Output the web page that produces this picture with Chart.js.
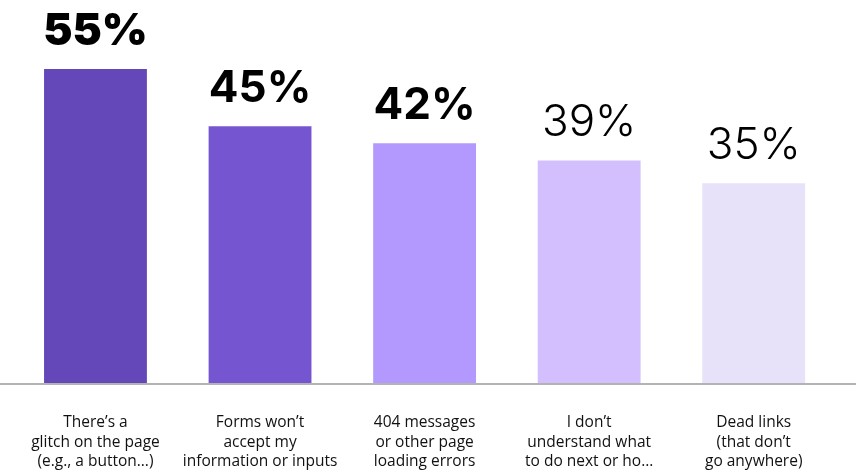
<!DOCTYPE html>
<html>
<head>
<meta charset="utf-8">
<script src="https://cdn.jsdelivr.net/npm/chart.js@4/dist/chart.umd.min.js"></script>
<style>
  html, body { margin: 0; padding: 0; background: #fff; }
  #wrap { width: 856px; height: 471px; }
</style>
</head>
<body>
<div id="wrap"><canvas id="chart"></canvas></div>
<script>
// Chart data
const categories = [
  ['There\u2019s a', 'glitch on the page', '(e.g., a button\u2026)'],
  ['Forms won\u2019t', 'accept my', 'information or inputs'],
  ['404 messages', 'or other page', 'loading errors'],
  ['I don\u2019t', 'understand what', 'to do next or ho\u2026'],
  ['Dead links', '(that don\u2019t', 'go anywhere)']
];
const values = [55, 45, 42, 39, 35];

// Styling
const barColors = ['#6448BA', '#7656D0', '#B399FD', '#D3BFFD', '#E7E2FA'];
const labelWeights = [900, 700, 700, 300, 300];

// Draws the value labels above each bar
const valueLabels = {
  id: 'valueLabels',
  afterDatasetsDraw(chart) {
    const ctx = chart.ctx;
    const meta = chart.getDatasetMeta(0);
    ctx.save();
    ctx.fillStyle = '#000';
    ctx.textAlign = 'center';
    ctx.textBaseline = 'alphabetic';
    meta.data.forEach((bar, i) => {
      ctx.font = labelWeights[i] + ' 44px Inter, "Liberation Sans", sans-serif';
      ctx.fillText(values[i] + '%', bar.x, bar.y - 24);
    });
    ctx.restore();
  }
};

// Baseline across the full width
const baseline = {
  id: 'baseline',
  beforeDatasetsDraw(chart) {
    const ctx = chart.ctx;
    const y = chart.scales.y.getPixelForValue(0);
    ctx.save();
    ctx.strokeStyle = '#b3b3b3';
    ctx.lineWidth = 2;
    ctx.beginPath();
    ctx.moveTo(0, y + 1);
    ctx.lineTo(chart.width, y + 1);
    ctx.stroke();
    ctx.restore();
  }
};

new Chart(document.getElementById('chart').getContext('2d'), {
  type: 'bar',
  data: {
    labels: categories,
    datasets: [{
      data: values,
      backgroundColor: barColors,
      borderWidth: 0,
      barPercentage: 0.625,
      categoryPercentage: 1
    }]
  },
  options: {
    responsive: true,
    maintainAspectRatio: false,
    animation: false,
    layout: { padding: { left: 12, right: 20, top: 12, bottom: 0 } },
    plugins: {
      legend: { display: false },
      tooltip: { enabled: false }
    },
    scales: {
      x: {
        grid: { display: false, drawTicks: false },
        border: { display: false },
        afterFit(scale) { scale.height = 88; },
        ticks: {
          color: '#111',
          padding: 30,
          maxRotation: 0,
          autoSkip: false,
          font: { family: '"Open Sans", Roboto, sans-serif', size: 15.5, lineHeight: 1.26 }
        }
      },
      y: {
        display: false,
        min: 0,
        max: 65
      }
    }
  },
  plugins: [baseline, valueLabels]
});
</script>
</body>
</html>
